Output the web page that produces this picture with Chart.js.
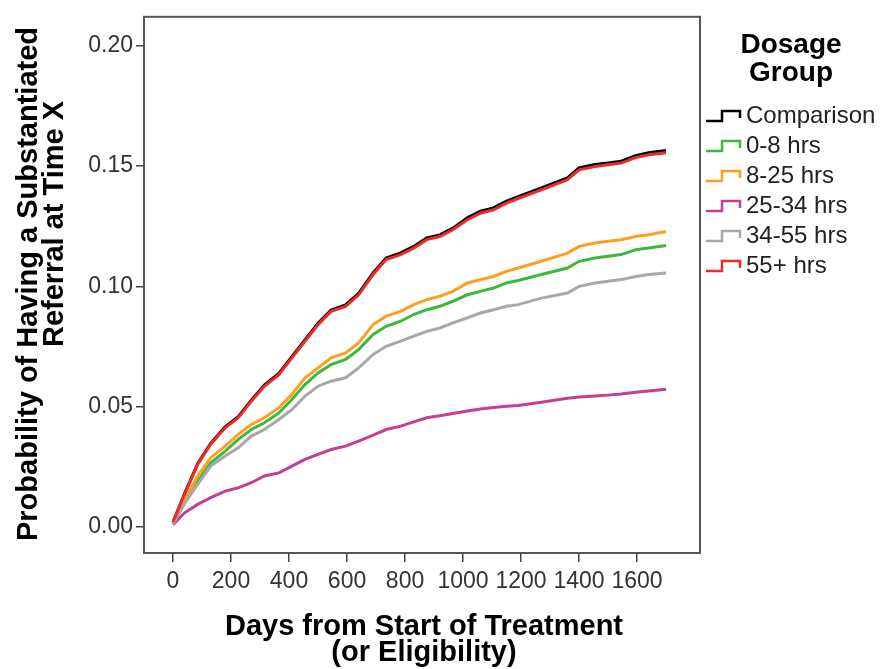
<!DOCTYPE html>
<html>
<head>
<meta charset="utf-8">
<title>Dosage Group - Substantiated Referral</title>
<script src="https://cdn.jsdelivr.net/npm/chart.js@4.4.0/dist/chart.umd.min.js"></script>
<style>
  html, body { margin: 0; padding: 0; background: #fff; }
  #wrap { width: 880px; height: 669px; position: relative; }
</style>
</head>
<body>
<div id="wrap"><canvas id="chart" width="880" height="669"></canvas></div>
<script>
// ---- data ----
const days = [0, 40, 85, 130, 180, 225, 270, 315, 365, 410, 455, 500, 545, 595, 640, 690, 735, 785,
  830, 875, 920, 965, 1015, 1060, 1105, 1150, 1190, 1270, 1360, 1400, 1455, 1500, 1545, 1595, 1640, 1700];

const comparison = [0.002, 0.0139, 0.0263, 0.0347, 0.0416, 0.0458, 0.0527, 0.059, 0.0638, 0.0708, 0.0777, 0.0847,
  0.0902, 0.0923, 0.0971, 0.1056, 0.1118, 0.1139, 0.1166, 0.1201, 0.1214, 0.1242, 0.1285, 0.1312, 0.1326, 0.1354,
  0.1373, 0.1409, 0.1451, 0.1492, 0.1506, 0.1513, 0.152, 0.1543, 0.1555, 0.1564];
const hrs0to8 = [0.0012, 0.0102, 0.0191, 0.0267, 0.0315, 0.0364, 0.0405, 0.0433, 0.0474, 0.053, 0.0592, 0.064,
  0.0675, 0.0696, 0.0737, 0.08, 0.0834, 0.0855, 0.0883, 0.0903, 0.0917, 0.0938, 0.0965, 0.0979, 0.0993, 0.1014,
  0.1024, 0.1049, 0.1076, 0.1104, 0.1118, 0.1125, 0.1132, 0.1152, 0.1159, 0.117];
const hrs8to25 = [0.0015, 0.011, 0.0212, 0.0288, 0.0336, 0.0385, 0.0426, 0.0454, 0.0495, 0.0551, 0.062, 0.0661,
  0.0703, 0.0723, 0.0765, 0.0841, 0.0876, 0.0896, 0.0924, 0.0945, 0.0959, 0.0979, 0.1014, 0.1028, 0.1041, 0.1062,
  0.1076, 0.1104, 0.1138, 0.1166, 0.118, 0.1187, 0.1194, 0.1207, 0.1214, 0.1228];
const hrs25to34 = [0.001, 0.0059, 0.0094, 0.0122, 0.0149, 0.0163, 0.0184, 0.0212, 0.0225, 0.0253, 0.0281, 0.0302,
  0.0322, 0.0336, 0.0357, 0.0382, 0.0405, 0.0419, 0.0437, 0.0454, 0.0462, 0.0472, 0.0482, 0.049, 0.0497, 0.0502,
  0.0505, 0.0518, 0.0535, 0.054, 0.0544, 0.0548, 0.0553, 0.056, 0.0565, 0.0572];
const hrs34to55 = [0.0012, 0.0098, 0.0177, 0.0253, 0.0295, 0.0329, 0.0378, 0.0405, 0.0447, 0.0488, 0.0544, 0.0585,
  0.0606, 0.062, 0.0661, 0.0717, 0.0751, 0.0772, 0.0793, 0.0813, 0.0827, 0.0848, 0.0869, 0.0889, 0.0903, 0.0917,
  0.0924, 0.0951, 0.0972, 0.1, 0.1014, 0.1021, 0.1028, 0.1041, 0.1049, 0.1055];
const hrs55plus = [0.002, 0.0137, 0.026, 0.0344, 0.0412, 0.0454, 0.0523, 0.0585, 0.0633, 0.0703, 0.0772, 0.0841,
  0.0896, 0.0917, 0.0965, 0.1049, 0.1111, 0.1132, 0.1159, 0.1194, 0.1207, 0.1235, 0.1277, 0.1304, 0.1318, 0.1346,
  0.1365, 0.1401, 0.1443, 0.1484, 0.1498, 0.1505, 0.1512, 0.1535, 0.1547, 0.1555];

const groupLabels = ['Comparison', '0-8 hrs', '8-25 hrs', '25-34 hrs', '34-55 hrs', '55+ hrs'];
const groupColors = ['#000000', '#3cb83c', '#ff9e1f', '#c2408f', '#a8a8a8', '#ee2b2b'];
const groupSeries = [comparison, hrs0to8, hrs8to25, hrs25to34, hrs34to55, hrs55plus];
const groupOrder = [6, 5, 4, 3, 2, 1]; // red on top, black underneath

const xTicks = [0, 200, 400, 600, 800, 1000, 1200, 1400, 1600];
const yTicks = [0, 0.05, 0.10, 0.15, 0.20];

const FONT = "Arial, 'Liberation Sans', sans-serif";

// frame around plot + titles + step legend
const decorations = {
  id: 'decorations',
  afterDatasetsDraw(chart) {
    const { ctx, chartArea: a } = chart;
    ctx.save();
    ctx.strokeStyle = '#555';
    ctx.lineWidth = 2;
    ctx.strokeRect(a.left, a.top, a.right - a.left, a.bottom - a.top);
    ctx.restore();
  },
  afterDraw(chart) {
    const ctx = chart.ctx;
    ctx.save();
    ctx.fillStyle = '#000';

    // x axis title
    ctx.font = 'bold 29px ' + FONT;
    ctx.textAlign = 'center';
    ctx.textBaseline = 'alphabetic';
    ctx.fillText('Days from Start of Treatment', 424, 635);
    ctx.fillText('(or Eligibility)', 424, 661);

    // y axis title (rotated)
    ctx.save();
    ctx.translate(37, 284);
    ctx.rotate(-Math.PI / 2);
    ctx.fillText('Probability of Having a Substantiated', 0, 0);
    ctx.restore();
    ctx.save();
    ctx.translate(63, 224);
    ctx.rotate(-Math.PI / 2);
    ctx.fillText('Referral at Time X', 0, 0);
    ctx.restore();

    // legend title
    ctx.font = 'bold 28px ' + FONT;
    ctx.fillText('Dosage', 791, 53);
    ctx.fillText('Group', 791, 81);

    // legend items with step icons
    ctx.textAlign = 'left';
    ctx.textBaseline = 'middle';
    ctx.font = '24px ' + FONT;
    groupLabels.forEach((label, i) => {
      const cy = 115 + i * 30;
      ctx.strokeStyle = groupColors[i];
      ctx.lineWidth = 2.5;
      ctx.beginPath();
      ctx.moveTo(706, cy + 6);
      ctx.lineTo(722, cy + 6);
      ctx.lineTo(722, cy - 4);
      ctx.lineTo(740, cy - 4);
      ctx.lineTo(740, cy + 3);
      ctx.stroke();
      ctx.fillStyle = '#222';
      ctx.fillText(label, 746, cy + 1);
    });
    ctx.restore();
  }
};

const datasets = groupLabels.map((label, i) => ({
  label,
  data: days.map((d, j) => ({ x: d, y: groupSeries[i][j] })),
  borderColor: groupColors[i],
  backgroundColor: groupColors[i],
  borderWidth: 3,
  pointRadius: 0,
  tension: 0,
  fill: false,
  order: groupOrder[i]
}));

new Chart(document.getElementById('chart'), {
  type: 'line',
  data: { datasets },
  options: {
    responsive: false,
    animation: false,
    devicePixelRatio: 1,
    layout: { padding: { top: 15, right: 180, left: 0, bottom: 0 } },
    plugins: { legend: { display: false }, tooltip: { enabled: false } },
    scales: {
      x: {
        type: 'linear',
        min: -100,
        max: 1817,
        afterFit: s => { s.height = 116; },
        afterBuildTicks: s => { s.ticks = xTicks.map(v => ({ value: v })); },
        ticks: {
          font: { family: FONT, size: 23 },
          color: '#333',
          padding: 6,
          maxRotation: 0,
          autoSkip: false,
          callback: v => String(v)
        },
        grid: { drawOnChartArea: false, drawTicks: true, tickLength: 9, color: '#444', lineWidth: 1.5 },
        border: { display: false }
      },
      y: {
        min: -0.0108,
        max: 0.212,
        afterFit: s => { s.width = 144; },
        afterBuildTicks: s => { s.ticks = yTicks.map(v => ({ value: v })); },
        ticks: {
          font: { family: FONT, size: 23 },
          color: '#333',
          padding: 3,
          callback: v => v.toFixed(2)
        },
        grid: { drawOnChartArea: false, drawTicks: true, tickLength: 8, color: '#444', lineWidth: 1.5 },
        border: { display: false }
      }
    }
  },
  plugins: [decorations]
});
</script>
</body>
</html>
